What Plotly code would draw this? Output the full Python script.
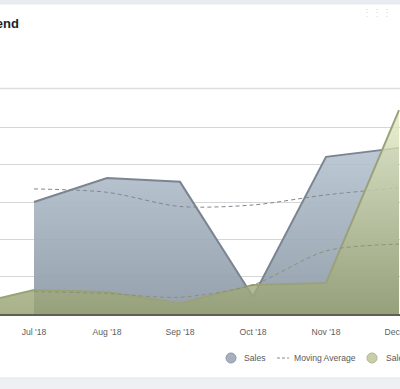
import plotly.graph_objects as go

# ---- data (values in $K) ----
months = ["Jun '18", "Jul '18", "Aug '18", "Sep '18", "Oct '18", "Nov '18", "Dec '18"]
sales = [None, 30.0, 36.4, 35.4, 4.6, 42.1, 44.5]
sales_ma = [None, 33.5, 32.6, 28.8, 29.2, 31.9, 33.8]
sales_ly = [1.9, 6.4, 5.9, 2.9, 7.8, 8.3, 54.6]
sales_ly_ma = [None, 6.0, 5.5, 4.5, 7.8, 16.9, 18.7]
legend_names = ["Sales", "Moving Average", "Sales LY"]
title_text = "Sales Trend"

W, H = 400, 389
T, B = 90, 75
PH = H - T - B  # plot height in px


def px_x(px):
    return px / W


def px_y(py):
    return (H - B - py) / PH


fig = go.Figure()

fig.add_trace(go.Scatter(
    x=months, y=sales, name=legend_names[0], mode="lines",
    line=dict(color="#7b8591", width=2),
    fill="tozeroy",
    fillgradient=dict(type="vertical", start=0, stop=max(v for v in sales if v is not None),
                      colorscale=[[0, "rgba(140,152,166,0.92)"], [1, "rgba(184,196,210,0.92)"]]),
    showlegend=False, hoverinfo="skip"))

fig.add_trace(go.Scatter(
    x=months, y=sales_ma, name=legend_names[1], mode="lines",
    line=dict(color="#80868e", width=1, dash="4px,3px", shape="spline", smoothing=0.8),
    showlegend=False, hoverinfo="skip"))

fig.add_trace(go.Scatter(
    x=months, y=sales_ly, name=legend_names[2], mode="lines",
    line=dict(color="#9aa27a", width=2),
    fill="tozeroy",
    fillgradient=dict(type="vertical", start=0, stop=max(sales_ly),
                      colorscale=[[0, "rgba(150,160,112,0.82)"], [1, "rgba(226,234,196,0.8)"]]),
    showlegend=False, hoverinfo="skip"))

fig.add_trace(go.Scatter(
    x=months, y=sales_ly_ma, name=legend_names[1], mode="lines",
    line=dict(color="#8a9078", width=1, dash="4px,3px", shape="spline", smoothing=0.8),
    showlegend=False, hoverinfo="skip"))

shapes = [
    # top page band
    dict(type="rect", xref="paper", yref="paper", x0=0, x1=1, y0=px_y(4.5), y1=px_y(0),
         fillcolor="#e8ecf0", line=dict(width=0), layer="below"),
    # header separator
    dict(type="line", xref="paper", yref="paper", x0=0, x1=1, y0=px_y(88.5), y1=px_y(88.5),
         line=dict(color="#dedede", width=1.5), layer="below"),
    # bottom page band
    dict(type="rect", xref="paper", yref="paper", x0=0, x1=1, y0=px_y(H), y1=px_y(378),
         fillcolor="#eef0f3", line=dict(width=0), layer="below"),
    dict(type="line", xref="paper", yref="paper", x0=0, x1=1, y0=px_y(378), y1=px_y(378),
         line=dict(color="#e2e5e8", width=1), layer="below"),
    # legend symbols
    dict(type="circle", xref="paper", yref="paper",
         x0=px_x(226), x1=px_x(236), y0=px_y(363), y1=px_y(353),
         fillcolor="#a6b1bd", line=dict(color="#909aa6", width=1)),
    dict(type="line", xref="paper", yref="paper",
         x0=px_x(277), x1=px_x(289), y0=px_y(358), y1=px_y(358),
         line=dict(color="#8a8a8a", width=1, dash="3px,2px")),
    dict(type="circle", xref="paper", yref="paper",
         x0=px_x(367), x1=px_x(377), y0=px_y(363), y1=px_y(353),
         fillcolor="#c9cea8", line=dict(color="#b0b68e", width=1)),
]

leg_font = dict(family="Liberation Sans, Arial, sans-serif", size=8.6, color="#5a5a5a")
annotations = [
    dict(text="<b>" + title_text + "</b>", xref="paper", yref="paper",
         x=px_x(20.5), y=px_y(23), xanchor="right", yanchor="middle", showarrow=False,
         font=dict(family="Liberation Sans, Arial, sans-serif", size=13, color="#222222")),
    dict(text="⋮⋮⋮", xref="paper", yref="paper", x=px_x(377), y=px_y(12),
         xanchor="center", yanchor="middle", showarrow=False,
         font=dict(size=10, color="#dadada")),
    dict(text=legend_names[0], xref="paper", yref="paper", x=px_x(242), y=px_y(358),
         xanchor="left", yanchor="middle", showarrow=False, font=leg_font),
    dict(text=legend_names[1], xref="paper", yref="paper", x=px_x(292), y=px_y(358),
         xanchor="left", yanchor="middle", showarrow=False, font=leg_font),
    dict(text=legend_names[2], xref="paper", yref="paper", x=px_x(384), y=px_y(358),
         xanchor="left", yanchor="middle", showarrow=False, font=leg_font),
]

fig.update_layout(
    width=W, height=H, autosize=False,
    margin=dict(l=0, r=0, t=T, b=B, pad=0),
    paper_bgcolor="white", plot_bgcolor="white",
    showlegend=False,
    shapes=shapes, annotations=annotations,
    xaxis=dict(type="category", categoryorder="array", categoryarray=months,
               range=[1 - 34 / 73, 6 + 1 / 73], automargin=False,
               showgrid=False, zeroline=False, ticks="",
               showline=True, linecolor="#5c6055", linewidth=2,
               tickfont=dict(family="Liberation Sans, Arial, sans-serif", size=8.6, color="#5e5e5e"),
               ticklabelstandoff=9),
    yaxis=dict(range=[0, 60], dtick=10, showgrid=True, gridcolor="#d6d6d6", gridwidth=1,
               automargin=False, zeroline=False, showticklabels=False, ticks=""),
)

fig.write_html(
    "out.html",
    config={"displayModeBar": False, "responsive": False},
    post_script=(
        "document.documentElement.style.overflow='hidden';"
        "document.body.style.margin='0';document.body.style.overflow='hidden';"
    ),
)
